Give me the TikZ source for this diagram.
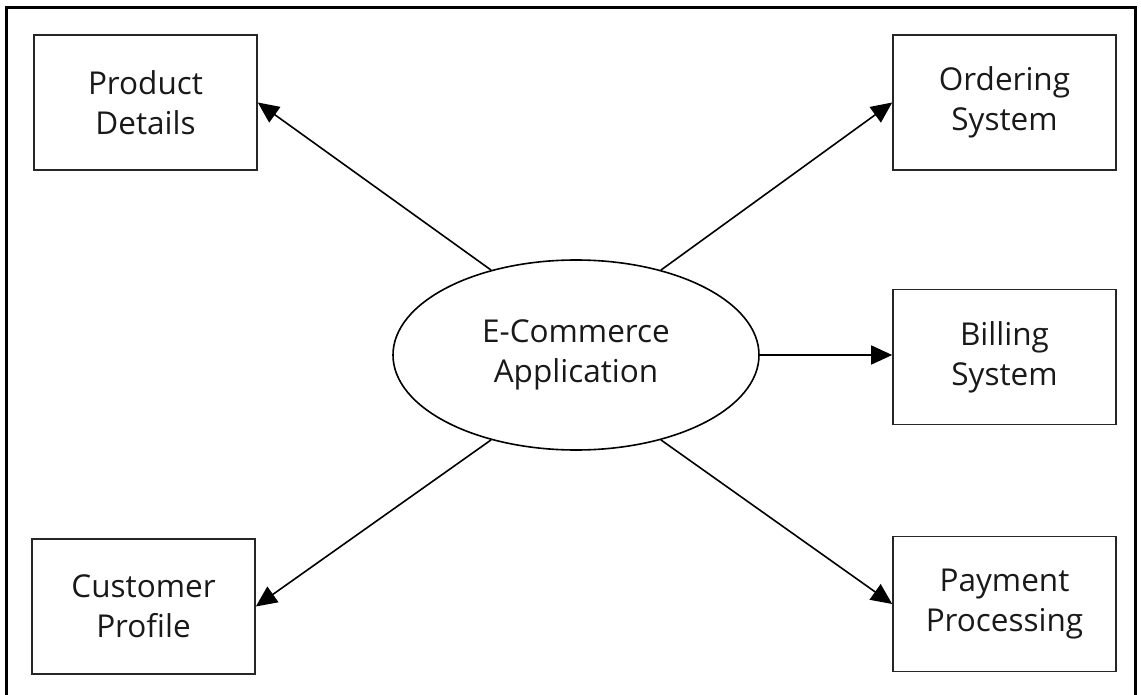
\documentclass[tikz,border=0pt]{standalone}
\usepackage{fontspec}
\setmainfont{Open Sans}
\usetikzlibrary{shapes.geometric,arrows.meta}
\tikzset{
  boxnode/.style={draw=black!85, line width=1.6pt, minimum width=223pt, minimum height=135pt, inner sep=0pt, align=center, font=\fontsize{31.5}{40}\selectfont, text=black!90},
  ellnode/.style={ellipse, draw=black, line width=1.6pt, minimum width=366pt, minimum height=190pt, inner sep=0pt, align=center, font=\fontsize{31.5}{40}\selectfont, text=black!90},
  conn/.style={line width=1.6pt, -{Triangle[length=21pt,width=19pt]}},
  frame/.style={line width=3pt, line cap=rect}
}
\begin{document}
\begin{tikzpicture}[x=1pt,y=-1pt]
\useasboundingbox (0,0) rectangle (1141,695);
\draw[frame] (6,700) -- (6,8) -- (1135,8) -- (1135,700);
\node[ellnode] (e) at (576,355) {E-Commerce\\Application};
\node[boxnode] (pd) at (145.5,102.5) {Product\\Details};
\node[boxnode] (os) at (1004.5,102.5) {Ordering\\System};
\node[boxnode] (bs) at (1004.5,357) {Billing\\System};
\node[boxnode] (cp) at (143.5,606.5) {Customer\\Profile};
\node[boxnode] (pp) at (1004.5,604) {Payment\\Processing};
\draw[conn] (e.135) -- (pd.east);
\draw[conn] (e.45) -- (os.west);
\draw[conn] (e.east) -- (e.east -| bs.west);
\draw[conn] (e.225) -- (cp.east);
\draw[conn] (e.315) -- (pp.west);
\end{tikzpicture}
\end{document}
